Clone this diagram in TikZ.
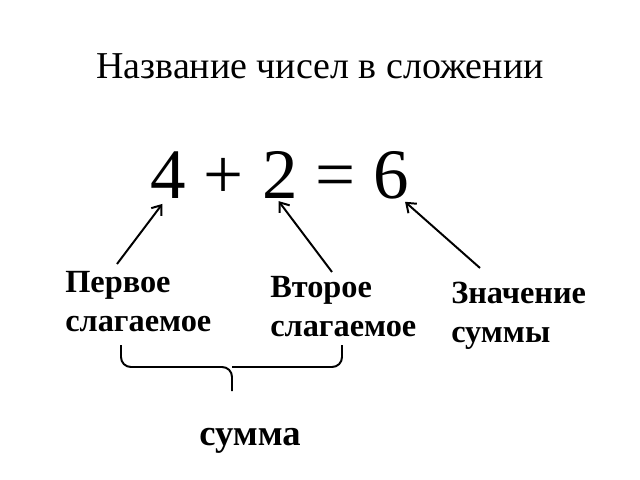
\documentclass[tikz,border=0pt]{standalone}
\usepackage{fontspec}
\setmainfont{Liberation Serif}
\usetikzlibrary{arrows.meta,positioning}

\begin{document}
\begin{tikzpicture}[x=0.025cm, y=-0.025cm,
    title/.style={font=\fontsize{27}{32}\selectfont, anchor=base},
    sym/.style={font=\fontsize{50.5}{60}\selectfont, anchor=base, inner sep=0pt},
    part/.style={font=\fontsize{23}{27.5}\selectfont\bfseries, align=left, anchor=north west, inner sep=0pt},
    pointer/.style={line width=1.4pt, -{Straight Barb[length=6pt, width=9pt]}},
    brace/.style={line width=1.4pt, rounded corners=7pt}]
    \useasboundingbox (0,0) rectangle (640,480);

    % title
    \node [title] (head) at (320,78) {Название чисел в сложении};

    % the sum
    \foreach \x/\s/\nm in {168/4/a, 224/+/plus, 280/2/b, 336/=/eq, 391/6/c} {
        \node [sym] (\nm) at (\x,198) {\s};
    }

    % names of the parts
    \node [part] (first) at (65,271) {Первое\\слагаемое};
    \node [part] (second) at (270,276) {Второе\\слагаемое};
    \node [part] (result) at (451,282) {Значение\\суммы};
    \node [font=\fontsize{26}{31}\selectfont\bfseries, anchor=base] (total) at (250,445) {сумма};

    % arrows
    \coordinate (t1) at (117,264);
    \coordinate (t2) at (332,272);
    \coordinate (t3) at (480,268);
    \draw [pointer] (t1) -- ([xshift=-4pt, yshift=-4pt]a.south);
    \draw [pointer] (t2) -- ([xshift=-1pt, yshift=-2pt]b.south);
    \draw [pointer] (t3) -- ([xshift=10pt, yshift=-2pt]c.south);

    % brace under the two addends
    \coordinate (bl) at (121,345);
    \coordinate (br) at (342,345);
    \coordinate (bm) at (232,391);
    \draw [brace] (bl) -- (121,367) -- (232,367) -- (bm);
    \draw [brace] (br) -- (342,367) -- (232,367);
\end{tikzpicture}
\end{document}
